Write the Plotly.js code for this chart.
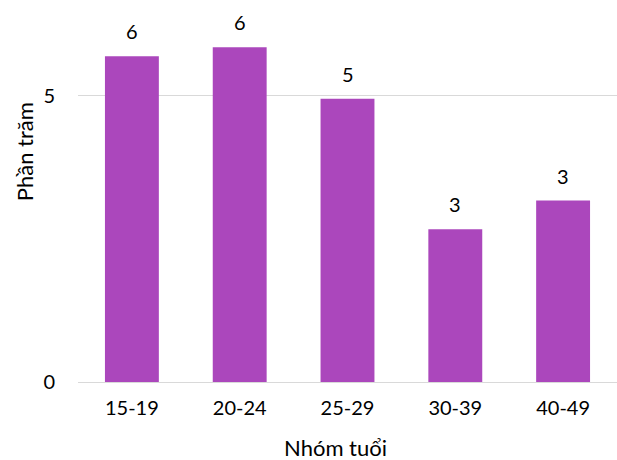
<!DOCTYPE html>
<html>
<head>
<meta charset="utf-8">
<script src="https://cdn.plot.ly/plotly-3.0.1.min.js"></script>
<style>html,body{margin:0;padding:0;background:#fff;}#chart{width:617px;height:460px;}</style>
</head>
<body>
<div id="chart"></div>
<script>
// Age groups and their share (percent)
const ageGroups = ["15-19", "20-24", "25-29", "30-39", "40-49"];
const percents = [5.69, 5.85, 4.95, 2.67, 3.17];
const yTicks = [0, 5];

const barColor = "#AB47BC";
const fontFamily = "Lato, 'Open Sans', sans-serif";

// Rounded value labels above each bar
const valueLabels = ageGroups.map((g, i) => ({
  x: g, y: percents[i], xref: "x", yref: "y",
  text: String(Math.round(percents[i])),
  showarrow: false, yanchor: "middle", yshift: 25,
  font: {family: fontFamily, size: 20, color: "#000"}
}));

const trace = {
  type: "bar",
  x: ageGroups,
  y: percents,
  marker: {color: barColor},
  hoverinfo: "x+y"
};

const layout = {
  width: 617, height: 460,
  margin: {l: 78, r: 0, t: 10, b: 78},
  paper_bgcolor: "#fff", plot_bgcolor: "#fff",
  bargap: 0.5,
  showlegend: false,
  font: {family: fontFamily, size: 20, color: "#000"},
  xaxis: {
    type: "category",
    showline: false, showgrid: false, ticks: "",
    ticklabelstandoff: 12,
    tickfont: {family: fontFamily, size: 20, color: "#000"}
  },
  yaxis: {
    range: [0, 6.5],
    tickvals: yTicks,
    showline: false, ticks: "",
    gridcolor: "#d9d9d9", gridwidth: 1,
    zeroline: true, zerolinecolor: "#d9d9d9", zerolinewidth: 1,
    ticklabelstandoff: 22,
    tickfont: {family: fontFamily, size: 20, color: "#000"}
  },
  annotations: valueLabels.concat([
    {
      text: "Phần trăm", xref: "paper", yref: "paper",
      x: -0.1, y: 0.618, xanchor: "center", yanchor: "middle",
      textangle: -90, showarrow: false,
      font: {family: fontFamily, size: 22, color: "#000"}
    },
    {
      text: "Nhóm tuổi", xref: "paper", yref: "paper",
      x: 0.478, y: -0.175, xanchor: "center", yanchor: "middle",
      showarrow: false,
      font: {family: fontFamily, size: 22, color: "#000"}
    }
  ])
};

Plotly.newPlot("chart", [trace], layout, {displayModeBar: false, staticPlot: true});
</script>
</body>
</html>
